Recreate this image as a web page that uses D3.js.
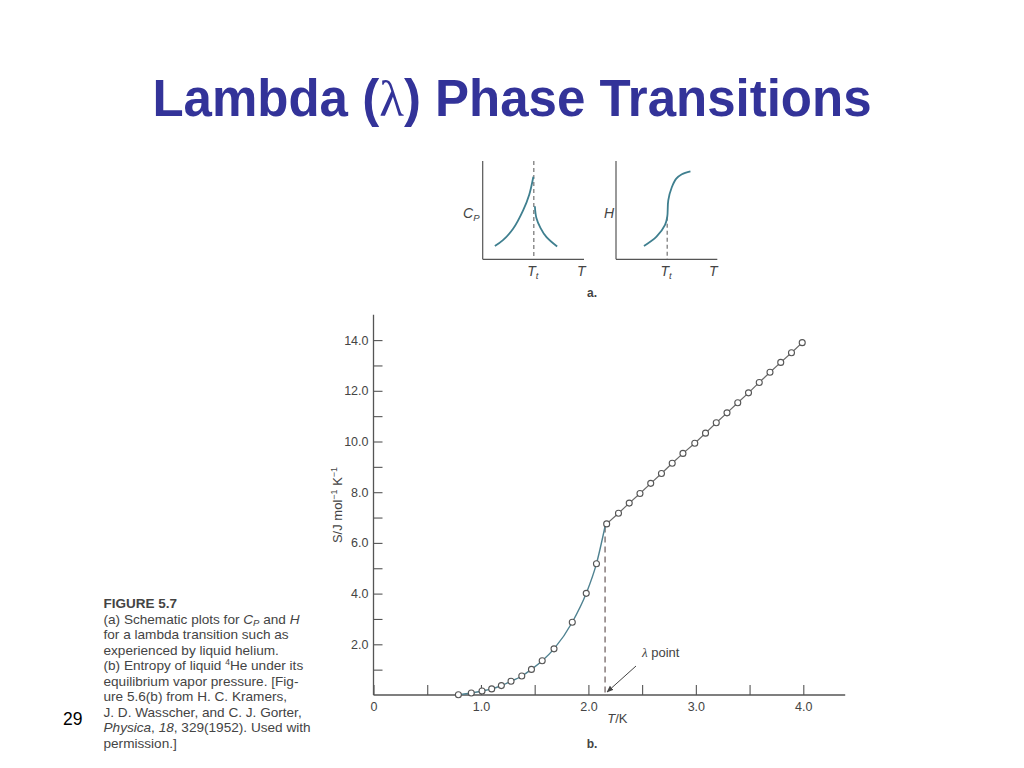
<!DOCTYPE html>
<html>
<head>
<meta charset="utf-8">
<script src="https://cdn.jsdelivr.net/npm/d3@7"></script>
<style>
  html, body { margin: 0; padding: 0; background: #fff; }
  svg { display: block; }
  text { font-family: "Liberation Sans", Arial, Helvetica, sans-serif; }
</style>
</head>
<body>
<svg id="chart" width="1024" height="768"></svg>
<script>
// ---------- data ----------
const lowerT = [0.79, 0.91, 1.01, 1.10, 1.19, 1.28, 1.38, 1.47, 1.57, 1.68, 1.85, 1.98, 2.075];
const lowerS = [0.01, 0.08, 0.16, 0.24, 0.37, 0.54, 0.75, 1.01, 1.35, 1.82, 2.87, 4.01, 5.18];
const upperT = [2.17, 2.28, 2.38, 2.48, 2.58, 2.68, 2.78, 2.88, 2.99, 3.09, 3.19, 3.29, 3.39, 3.49, 3.59, 3.69, 3.79, 3.89, 3.99];
const upperS = [6.75, 7.17, 7.57, 7.95, 8.35, 8.74, 9.14, 9.53, 9.93, 10.33, 10.74, 11.13, 11.53, 11.92, 12.33, 12.73, 13.12, 13.50, 13.90];
const lambdaT = 2.155;
const lambdaS = 6.65;
const yTicks = [1,2,3,4,5,6,7,8,9,10,11,12,13,14];
const xTicks = [0,0.5,1,1.5,2,2.5,3,3.5,4];

// schematic (a) curves, arbitrary units 0..10
const cpLeftX = [1.2, 2.0, 3.0, 4.0, 4.6, 5.0];
const cpLeftY = [1.35, 1.95, 3.1, 5.0, 6.6, 8.4];
const cpRightX = [5.15, 5.3, 5.7, 6.3, 7.35];
const cpRightY = [5.4, 4.2, 3.2, 2.25, 1.3];
const hX = [2.76, 4.0, 4.84, 5.06, 5.16, 5.5, 5.95, 6.5, 7.35];
const hY = [1.35, 2.3, 3.5, 4.33, 6.0, 7.3, 8.2, 8.65, 8.95];
const tTrans = 5.05;

// caption: segments [text, style] ; style: "" normal, "i" italic, "sub" italic subscript, "sup" superscript
const captionLines = [
  [["(a) Schematic plots for ", ""], ["C", "i"], ["P", "sub"], [" and ", ""], ["H", "i"]],
  [["for a lambda transition such as", ""]],
  [["experienced by liquid helium.", ""]],
  [["(b) Entropy of liquid ", ""], ["4", "sup"], ["He under its", ""]],
  [["equilibrium vapor pressure. [Fig-", ""]],
  [["ure 5.6(b) from H. C. Kramers,", ""]],
  [["J. D. Wasscher, and C. J. Gorter,", ""]],
  [["Physica", "i"], [", ", ""], ["18", "i"], [", 329(1952). Used with", ""]],
  [["permission.]", ""]]
];

const svg = d3.select("#chart");
svg.append("rect").attr("width", 1024).attr("height", 768).attr("fill", "#fff");

// ---------- title ----------
const title = svg.append("text")
  .attr("x", 512).attr("y", 116)
  .attr("text-anchor", "middle")
  .attr("font-size", 51).attr("font-weight", "bold")
  .attr("fill", "#333399");
title.append("tspan").text("Lambda (");
title.append("tspan").attr("font-family", "'Liberation Serif', 'DejaVu Serif', serif").attr("font-weight", "normal").text("λ");
title.append("tspan").text(") Phase Transitions");

// page number
svg.append("text").attr("x", 63).attr("y", 725).attr("font-size", 17.5).attr("fill", "#000").text("29");

// ---------- main chart (b) ----------
const x = d3.scaleLinear().domain([0, 4]).range([373.5, 803.3]);
const y = d3.scaleLinear().domain([0, 15]).range([695, 314.75]);
const axisColor = "#555";
const txtColor = "#444";

const gy = svg.append("g").attr("transform", `translate(${x(0)},0)`)
  .call(d3.axisLeft(y).tickValues(yTicks).tickSizeInner(-9).tickSizeOuter(0).tickPadding(5)
    .tickFormat(d => d % 2 === 0 ? d3.format(".1f")(d) : ""));
gy.select(".domain").remove();
gy.selectAll("line").attr("stroke", axisColor).attr("stroke-width", 1.1);
gy.selectAll("text").attr("fill", txtColor).attr("font-size", 12.5)
  .attr("font-family", "'Liberation Sans', Arial, sans-serif");

const gx = svg.append("g").attr("transform", `translate(0,${y(0)})`)
  .call(d3.axisBottom(x).tickValues(xTicks).tickSizeInner(-10).tickSizeOuter(0).tickPadding(7)
    .tickFormat(d => d === 0 ? "0" : (Number.isInteger(d) ? d3.format(".1f")(d) : "")));
gx.select(".domain").remove();
gx.selectAll("line").attr("stroke", axisColor).attr("stroke-width", 1.1);
gx.selectAll("text").attr("fill", txtColor).attr("font-size", 12.5)
  .attr("font-family", "'Liberation Sans', Arial, sans-serif");

// axis lines
svg.append("line").attr("x1", x(0)).attr("x2", x(4.39)).attr("y1", y(0)).attr("y2", y(0))
  .attr("stroke", axisColor).attr("stroke-width", 1.3);
svg.append("line").attr("x1", x(0)).attr("x2", x(0)).attr("y1", y(0)).attr("y2", y(15))
  .attr("stroke", axisColor).attr("stroke-width", 1.3);

// axis titles
const yl = svg.append("text")
  .attr("transform", `translate(342,505) rotate(-90)`)
  .attr("text-anchor", "middle").attr("font-size", 13).attr("fill", txtColor);
yl.append("tspan").text("S/J mol");
yl.append("tspan").attr("baseline-shift", "5").attr("font-size", 9).text("−1");
yl.append("tspan").text(" K");
yl.append("tspan").attr("baseline-shift", "5").attr("font-size", 9).text("−1");

const xl = svg.append("text").attr("x", x(2.27)).attr("y", 723)
  .attr("text-anchor", "middle").attr("font-size", 13).attr("fill", txtColor);
xl.append("tspan").attr("font-style", "italic").text("T");
xl.append("tspan").text("/K");

// dashed lambda line
svg.append("line").attr("x1", x(lambdaT)).attr("x2", x(lambdaT))
  .attr("y1", y(lambdaS)).attr("y2", y(0))
  .attr("stroke", "#5a4a4a").attr("stroke-width", 1.1).attr("stroke-dasharray", "6,4");

// curves
const lowerPts = lowerT.map((t, i) => [t, lowerS[i]]).concat([[lambdaT, lambdaS]]);
const upperPts = [[lambdaT, lambdaS]].concat(upperT.map((t, i) => [t, upperS[i]]));
svg.append("path").datum(lowerPts)
  .attr("d", d3.line().x(d => x(d[0])).y(d => y(d[1])).curve(d3.curveMonotoneX))
  .attr("fill", "none").attr("stroke", "#4f8291").attr("stroke-width", 1.4);
svg.append("path").datum(upperPts)
  .attr("d", d3.line().x(d => x(d[0])).y(d => y(d[1])))
  .attr("fill", "none").attr("stroke", "#6a6a6a").attr("stroke-width", 1.2);

// markers
const allPts = lowerT.map((t, i) => [t, lowerS[i]]).concat(upperT.map((t, i) => [t, upperS[i]]));
svg.append("g").selectAll("circle").data(allPts).join("circle")
  .attr("cx", d => x(d[0])).attr("cy", d => y(d[1])).attr("r", 3)
  .attr("fill", "#fff").attr("stroke", "#555").attr("stroke-width", 1.1);

// lambda point annotation
svg.append("defs").append("marker")
  .attr("id", "arr").attr("viewBox", "0 0 10 10").attr("refX", 9).attr("refY", 5)
  .attr("markerWidth", 7).attr("markerHeight", 7).attr("orient", "auto")
  .append("path").attr("d", "M0,1 L10,5 L0,9 Z").attr("fill", "#444");
svg.append("line").attr("x1", 636).attr("y1", 666).attr("x2", x(lambdaT) + 2).attr("y2", 692)
  .attr("stroke", "#444").attr("stroke-width", 1).attr("marker-end", "url(#arr)");
const lp = svg.append("text").attr("x", 642).attr("y", 657).attr("font-size", 13).attr("fill", txtColor);
lp.append("tspan").attr("font-family", "'Liberation Serif', serif").attr("font-style", "italic").text("λ");
lp.append("tspan").text(" point");

svg.append("text").attr("x", 592).attr("y", 748).attr("text-anchor", "middle")
  .attr("font-size", 12).attr("font-weight", "bold").attr("fill", txtColor).text("b.");

// ---------- schematic (a) ----------
const sy = d3.scaleLinear().domain([0, 10]).range([259.3, 161]);
const sxL = d3.scaleLinear().domain([0, 10]).range([482.7, 584]);
const sxR = d3.scaleLinear().domain([0, 10]).range([616, 717.3]);
const curveCol = "#3f7f8f";

function schematicAxes(sx) {
  svg.append("line").attr("x1", sx(0)).attr("x2", sx(0)).attr("y1", sy(0)).attr("y2", sy(10))
    .attr("stroke", axisColor).attr("stroke-width", 1.2);
  svg.append("line").attr("x1", sx(0)).attr("x2", sx(10)).attr("y1", sy(0)).attr("y2", sy(0))
    .attr("stroke", axisColor).attr("stroke-width", 1.2);
}
schematicAxes(sxL);
schematicAxes(sxR);

svg.append("line").attr("x1", sxL(tTrans)).attr("x2", sxL(tTrans)).attr("y1", sy(10)).attr("y2", sy(0))
  .attr("stroke", axisColor).attr("stroke-width", 1).attr("stroke-dasharray", "4,3");
svg.append("line").attr("x1", sxR(tTrans)).attr("x2", sxR(tTrans)).attr("y1", sy(4.33)).attr("y2", sy(0))
  .attr("stroke", axisColor).attr("stroke-width", 1).attr("stroke-dasharray", "4,3");

const lineL = d3.line().x(d => sxL(d[0])).y(d => sy(d[1])).curve(d3.curveCatmullRom);
const lineR = d3.line().x(d => sxR(d[0])).y(d => sy(d[1])).curve(d3.curveCatmullRom);
svg.append("path").datum(cpLeftX.map((v, i) => [v, cpLeftY[i]])).attr("d", lineL)
  .attr("fill", "none").attr("stroke", curveCol).attr("stroke-width", 1.8);
svg.append("path").datum(cpRightX.map((v, i) => [v, cpRightY[i]])).attr("d", lineL)
  .attr("fill", "none").attr("stroke", curveCol).attr("stroke-width", 1.8);
svg.append("path").datum(hX.map((v, i) => [v, hY[i]])).attr("d", lineR)
  .attr("fill", "none").attr("stroke", curveCol).attr("stroke-width", 1.8);

function italicSub(xp, yp, main, sub, anchor) {
  const t = svg.append("text").attr("x", xp).attr("y", yp).attr("font-size", 14)
    .attr("fill", txtColor).attr("font-style", "italic").attr("text-anchor", anchor || "start");
  t.append("tspan").text(main);
  if (sub) t.append("tspan").attr("baseline-shift", "-3").attr("font-size", 9.5).text(sub);
  return t;
}
italicSub(463, 218, "C", "P");
italicSub(604, 218, "H");
italicSub(sxL(tTrans) - 1, 276, "T", "t", "middle");
italicSub(sxR(tTrans) - 1, 276, "T", "t", "middle");
italicSub(577, 276, "T");
italicSub(709, 276, "T");
svg.append("text").attr("x", 592).attr("y", 297).attr("text-anchor", "middle")
  .attr("font-size", 12).attr("font-weight", "bold").attr("fill", txtColor).text("a.");

// ---------- caption ----------
const capX = 103.5, capY0 = 608, capDy = 15.5;
svg.append("text").attr("x", capX).attr("y", capY0).attr("font-size", 13.5).attr("font-weight", "bold")
  .attr("fill", txtColor).text("FIGURE 5.7");
captionLines.forEach((segs, i) => {
  const t = svg.append("text").attr("x", capX).attr("y", capY0 + capDy * (i + 1))
    .attr("font-size", 13.6).attr("fill", txtColor);
  segs.forEach(([s, st]) => {
    const ts = t.append("tspan").text(s);
    if (st === "i") ts.attr("font-style", "italic");
    if (st === "sub") ts.attr("font-style", "italic").attr("font-size", 9.5).attr("baseline-shift", "-2");
    if (st === "sup") ts.attr("font-size", 8.5).attr("baseline-shift", "5");
  });
});
</script>
</body>
</html>
